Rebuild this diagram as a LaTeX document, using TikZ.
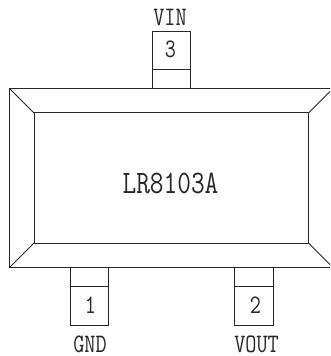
\documentclass[tikz,border=0pt]{standalone}
\usepackage{fontspec}
\usepackage{graphicx}
\newcommand{\narrowtext}[1]{\scalebox{0.81}[1]{#1}}
\begin{document}
\begin{tikzpicture}[x=0.75pt,y=-0.75pt,
  edge/.style={draw=black!85,line width=0.75pt,line join=miter},
  pinlabel/.style={inner sep=0pt,text=black!85,font=\fontsize{20pt}{20pt}\selectfont\ttfamily},
  chiplabel/.style={inner sep=0pt,text=black!85,font=\fontsize{24.6pt}{24.6pt}\selectfont\ttfamily}]
\clip (0,0) rectangle (330,356);
% body
\draw[edge] (9.5,88.5) -- (335,88.5) (9.5,88.5) -- (9.5,267.5) -- (335,267.5);
\draw[edge] (34,113) rectangle (308.5,243);
\draw[edge] (9.5,88.5) -- (34,113) (9.5,267.5) -- (34,243)
  (308.5,113) -- (335,86.5) (308.5,243) -- (335,269.5);
% pins
\draw[edge] (152,88.5) -- (152,31.5) -- (190.5,31.5) -- (190.5,88.5) (152,69.5) -- (190.5,69.5);
\draw[edge] (70,267.5) -- (70,325) -- (108.5,325) -- (108.5,267.5) (70,286.5) -- (108.5,286.5);
\draw[edge] (234.5,267.5) -- (234.5,325) -- (273,325) -- (273,267.5) (234.5,286.5) -- (273,286.5);
% labels
\node[pinlabel] (vin) at (170,17) {\narrowtext{VIN}};
\node[pinlabel] (p3) at (170.5,49.5) {\narrowtext{3}};
\node[pinlabel] (p1) at (90.5,305) {\narrowtext{1}};
\node[pinlabel] (p2) at (255.5,305) {\narrowtext{2}};
\node[pinlabel] (gnd) at (90,344) {\narrowtext{GND}};
\node[pinlabel] (vout) at (256.5,344) {\narrowtext{VOUT}};
\node[chiplabel] (chip) at (170.5,183) {\narrowtext{LR8103A}};
\end{tikzpicture}
\end{document}
